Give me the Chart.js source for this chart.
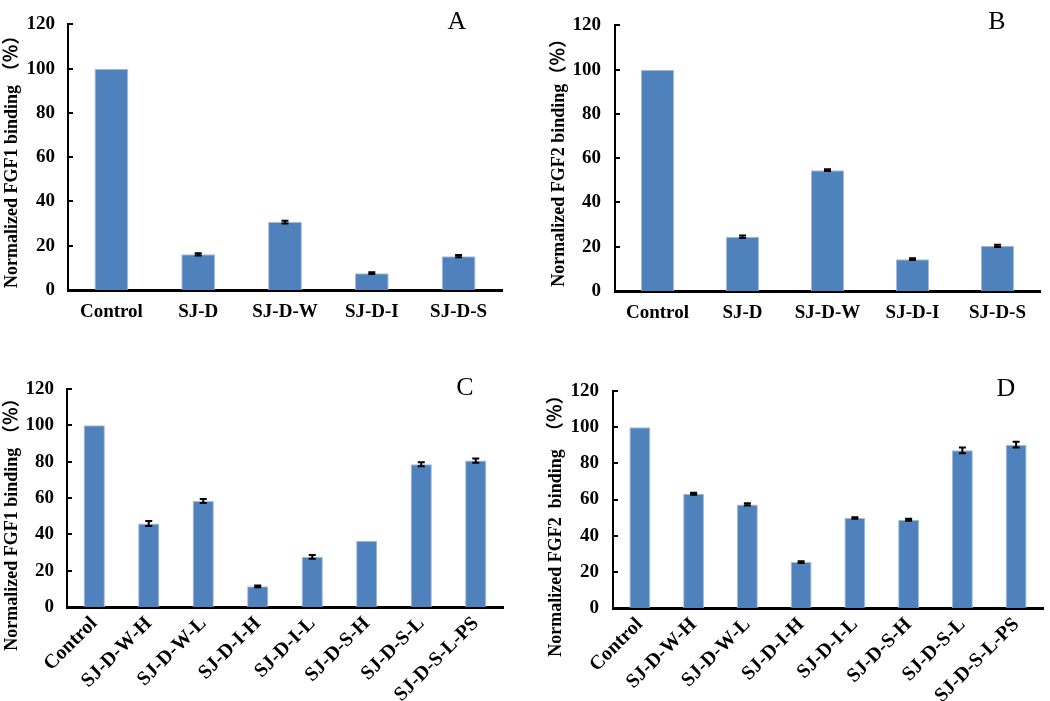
<!DOCTYPE html>
<html lang="en">
<head>
<meta charset="UTF-8" />
<title>Normalized FGF binding</title>
<script src="https://cdn.jsdelivr.net/npm/chart.js"></script>
<style>
  body { margin: 0; background: #fff; }
  .fig { position: relative; width: 1050px; height: 701px; overflow: hidden; }
  .panel { position: absolute; }
  .tag { position: absolute; font-family: 'Liberation Serif', 'Times New Roman', serif; font-size: 26px; line-height: 26px; color: #000; transform: translate(-50%, -50%); }
</style>
</head>
<body>
<div class="fig">
  <div class="panel" style="left:0;top:0;width:520px;height:330px"><canvas id="chartA"></canvas></div>
  <div class="panel" style="left:520px;top:0;width:530px;height:330px"><canvas id="chartB"></canvas></div>
  <div class="panel" style="left:0;top:330px;width:520px;height:371px"><canvas id="chartC"></canvas></div>
  <div class="panel" style="left:520px;top:330px;width:530px;height:371px"><canvas id="chartD"></canvas></div>
  <div class="tag" style="left:457px;top:21px">A</div>
  <div class="tag" style="left:997px;top:21px">B</div>
  <div class="tag" style="left:465px;top:387px">C</div>
  <div class="tag" style="left:1006px;top:388px">D</div>
</div>
<script>
  // categories
  const topLabels = ['Control', 'SJ-D', 'SJ-D-W', 'SJ-D-I', 'SJ-D-S'];
  const bottomLabels = ['Control', 'SJ-D-W-H', 'SJ-D-W-L', 'SJ-D-I-H', 'SJ-D-I-L', 'SJ-D-S-H', 'SJ-D-S-L', 'SJ-D-S-L-PS'];
  const yTicks = [0, 20, 40, 60, 80, 100, 120];

  // values (%), with error bar half-heights
  const fgf1Crude = [100, 16.1, 30.7, 7.6, 15.3];
  const fgf1CrudeErr = [0, 0.5, 0.6, 0.4, 0.5];
  const fgf2Crude = [100, 24.5, 54.6, 14.4, 20.4];
  const fgf2CrudeErr = [0, 0.6, 0.4, 0.4, 0.5];
  const fgf1Frac = [100, 46.0, 58.3, 11.4, 27.6, 36.4, 78.6, 80.6];
  const fgf1FracErr = [0, 1.4, 1.1, 0.5, 1.0, 0, 1.1, 1.2];
  const fgf2Frac = [100, 63.2, 57.3, 25.4, 49.8, 48.8, 87.2, 90.3];
  const fgf2FracErr = [0, 0.6, 0.6, 0.5, 0.4, 0.5, 1.6, 1.6];

  const serif = "'Liberation Serif', 'Times New Roman', 'Noto Sans CJK SC', serif";

  const errorBars = {
    id: 'errorBars',
    afterDatasetsDraw(chart, args, opts) {
      const meta = chart.getDatasetMeta(0), y = chart.scales.y, ctx = chart.ctx;
      const vals = chart.data.datasets[0].data;
      ctx.save();
      ctx.strokeStyle = '#000'; ctx.lineWidth = 2;
      opts.errors.forEach((e, i) => {
        if (!e) return;
        const x = meta.data[i].x;
        const t = y.getPixelForValue(vals[i] + e), b = y.getPixelForValue(vals[i] - e);
        ctx.beginPath();
        ctx.moveTo(x, t); ctx.lineTo(x, b);
        ctx.moveTo(x - 3.5, t); ctx.lineTo(x + 3.5, t);
        ctx.moveTo(x - 3.5, b); ctx.lineTo(x + 3.5, b);
        ctx.stroke();
      });
      ctx.restore();
    }
  };

  // small tick marks pointing into the plot
  const innerTicks = {
    id: 'innerTicks',
    afterDraw(chart) {
      const y = chart.scales.y, ctx = chart.ctx, x0 = chart.chartArea.left;
      ctx.save();
      ctx.strokeStyle = '#000'; ctx.lineWidth = 2;
      y.ticks.forEach(t => {
        const p = Math.round(y.getPixelForValue(t.value));
        ctx.beginPath(); ctx.moveTo(x0, p); ctx.lineTo(x0 + 5, p); ctx.stroke();
      });
      ctx.restore();
    }
  };

  // rotated y title, can sit off-centre like the original
  const yTitle = {
    id: 'yTitle',
    afterDraw(chart, args, opts) {
      const ctx = chart.ctx, a = chart.chartArea;
      ctx.save();
      ctx.translate(opts.x, (a.top + a.bottom) / 2 + opts.shift);
      ctx.rotate(-Math.PI / 2);
      ctx.font = 'bold 18px ' + serif;
      ctx.fillStyle = '#000'; ctx.textAlign = 'center'; ctx.textBaseline = 'middle';
      ctx.fillText(opts.text, 0, 0);
      ctx.restore();
    }
  };

  function makePanel(id, labels, values, errors, s) {
    new Chart(document.getElementById(id), {
      type: 'bar',
      data: {
        labels,
        datasets: [{ data: values, backgroundColor: '#4f81bd', borderColor: '#a7bad6', borderWidth: 1,
                     categoryPercentage: 1, barPercentage: 0.39 }]
      },
      options: {
        responsive: true, maintainAspectRatio: false, animation: false,
        layout: { padding: { left: 0, right: s.right, top: s.top, bottom: 0 } },
        plugins: {
          legend: { display: false }, tooltip: { enabled: false },
          errorBars: { errors },
          yTitle: { text: s.title, x: s.titleX, shift: s.shift }
        },
        scales: {
          x: {
            grid: { display: false, drawTicks: false },
            border: { color: '#000', width: 3 },
            ticks: { color: '#000', font: { family: serif, size: s.xFont, weight: 'bold' }, padding: s.xPad,
                     minRotation: s.rot, maxRotation: s.rot, autoSkip: false },
            afterFit: sc => { sc.height = s.xHeight; }
          },
          y: {
            min: 0, max: 120,
            afterBuildTicks: sc => { sc.ticks = yTicks.map(v => ({ value: v })); },
            grid: { display: false, drawTicks: false },
            border: { color: '#000', width: 2 },
            ticks: { color: '#000', font: { family: serif, size: 19, weight: 'bold' }, padding: s.yPad },
            afterFit: sc => { sc.width = s.yWidth; }
          }
        }
      },
      plugins: [errorBars, innerTicks, yTitle]
    });
  }

  makePanel('chartA', topLabels, fgf1Crude, fgf1CrudeErr,
    { right: 18, top: 7, yWidth: 68, xHeight: 40, xFont: 19, xPad: 11, rot: 0, yPad: 13,
      title: 'Normalized FGF1 binding （％）', titleX: 12, shift: 0 });
  makePanel('chartB', topLabels, fgf2Crude, fgf2CrudeErr,
    { right: 10, top: 7, yWidth: 95, xHeight: 39, xFont: 19, xPad: 11, rot: 0, yPad: 14,
      title: 'Normalized FGF2 binding（％）', titleX: 39, shift: 0 });
  makePanel('chartC', bottomLabels, fgf1Frac, fgf1FracErr,
    { right: 17, top: 59, yWidth: 67, xHeight: 94, xFont: 20, xPad: 5, rot: 45, yPad: 13,
      title: 'Normalized FGF1 binding （％）', titleX: 12, shift: 22 });
  makePanel('chartD', bottomLabels, fgf2Frac, fgf2FracErr,
    { right: 7, top: 61, yWidth: 93, xHeight: 93, xFont: 20, xPad: 5, rot: 45, yPad: 14,
      title: 'Normalized FGF2  binding  （％）', titleX: 36, shift: 22 });
</script>
</body>
</html>
